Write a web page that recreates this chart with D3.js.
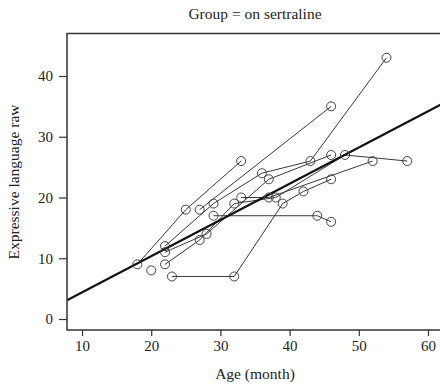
<!DOCTYPE html>
<html><head><meta charset="utf-8">
<script src="https://cdn.jsdelivr.net/npm/d3@7"></script>
<style>body{margin:0;background:#fff}svg{display:block}</style>
</head><body><svg id="c" width="440" height="384"></svg>
<script>
// subjects: ages and values per visit
const subjectIds = ["A","B","C","D","E","F","G","H","I"];
const subjectAges = [
  [18,25,33],
  [27,46],
  [23,32,39,42,46],
  [29,44,46],
  [22,29,36,43,54],
  [22,28,37,46],
  [22,27,32,38,48,57],
  [33,37,52],
  [20]
];
const subjectValues = [
  [9,18,26],
  [18,35],
  [7,7,19,21,23],
  [17,17,16],
  [12,19,24,26,43],
  [11,14,23,27],
  [9,13,19,20,27,26],
  [20,20,26],
  [8]
];
const fitCoef = [-1.57, 0.596]; // intercept, slope
const xTicks = [10,20,30,40,50,60];
const yTicks = [0,10,20,30,40];
const titleText = "Group = on sertraline";
const xLabel = "Age (month)";
const yLabel = "Expressive language raw";

const FONT = "Liberation Serif, DejaVu Serif, serif";
const svg = d3.select("#c");
const L = 67, T = 33.5, B = 330, R = 446;
const xs = d3.scaleLinear().domain([10,60]).range([82,428]);
const ys = d3.scaleLinear().domain([0,40]).range([319,76]);
const xMin = xs.invert(L), xMax = xs.invert(R);

svg.append("defs").append("clipPath").attr("id","pc")
  .append("rect").attr("x",L).attr("y",T).attr("width",R-L).attr("height",B-T);

const g = svg.append("g").attr("clip-path","url(#pc)");
const line = d3.line().x(d=>xs(d[0])).y(d=>ys(d[1]));
const subjects = subjectIds.map((id,i)=>subjectAges[i].map((a,j)=>[a,subjectValues[i][j]]));

g.selectAll("path.subj").data(subjects).enter().append("path")
  .attr("class","subj").attr("d",line).attr("fill","none")
  .attr("stroke","#3a3a3a").attr("stroke-width",1);

g.append("path").attr("d",line([[xMin,fitCoef[0]+fitCoef[1]*xMin],[xMax,fitCoef[0]+fitCoef[1]*xMax]]))
  .attr("stroke","#111").attr("stroke-width",2.2).attr("fill","none");

g.selectAll("circle").data(subjects.flat()).enter().append("circle")
  .attr("cx",d=>xs(d[0])).attr("cy",d=>ys(d[1])).attr("r",4.5)
  .attr("fill","none").attr("stroke","#444").attr("stroke-width",1);

svg.append("rect").attr("x",L).attr("y",T).attr("width",R-L).attr("height",B-T)
  .attr("fill","none").attr("stroke","#333").attr("stroke-width",1.5);

const xAxis = svg.append("g").attr("transform",`translate(0,${B})`)
  .call(d3.axisBottom(xs).tickValues(xTicks).tickSize(6).tickPadding(4))
  .attr("font-family",FONT).attr("font-size",15);
xAxis.select(".domain").remove();
xAxis.selectAll("line").attr("stroke","#333").attr("stroke-width",1.2);
xAxis.selectAll("text").attr("fill","#222");

const yAxis = svg.append("g").attr("transform",`translate(${L},0)`)
  .call(d3.axisLeft(ys).tickValues(yTicks).tickSize(8).tickPadding(6))
  .attr("font-family",FONT).attr("font-size",15);
yAxis.select(".domain").remove();
yAxis.selectAll("line").attr("stroke","#333").attr("stroke-width",1.2);
yAxis.selectAll("text").attr("fill","#222");

const lab = svg.append("g").attr("font-family",FONT).attr("fill","#222");
lab.append("text").attr("x",255).attr("y",19).attr("text-anchor","middle")
  .attr("font-size",15.5).text(titleText);
lab.append("text").attr("x",255).attr("y",379).attr("text-anchor","middle")
  .attr("font-size",15.5).text(xLabel);
lab.append("text").attr("transform","translate(19,182) rotate(-90)").attr("text-anchor","middle")
  .attr("font-size",15.5).text(yLabel);
</script></body></html>
